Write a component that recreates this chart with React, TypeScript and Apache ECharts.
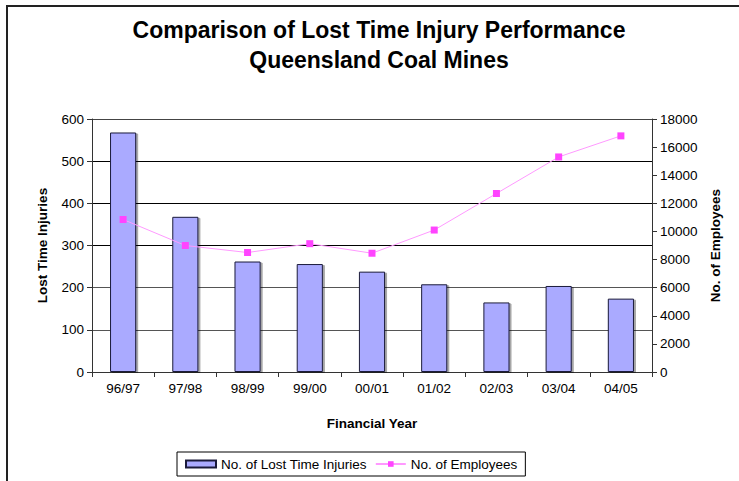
import React, { useEffect, useRef } from "react";
import * as echarts from "echarts";

const categories = ["96/97", "97/98", "98/99", "99/00", "00/01", "01/02", "02/03", "03/04", "04/05"];
const lostTimeInjuries = [568, 368, 262, 256, 238, 208, 165, 204, 174];
const employees = [10850, 9000, 8500, 9130, 8450, 10100, 12700, 15300, 16800];
const leftTicks = { min: 0, max: 600, interval: 100 };
const rightTicks = { min: 0, max: 18000, interval: 2000 };
const titleLines = ["Comparison of Lost Time Injury Performance", "Queensland Coal Mines"];

const FONT = "'Liberation Sans', Arial, sans-serif";

export default function App() {
  const ref = useRef<HTMLDivElement>(null);
  useEffect(() => {
    if (!ref.current) return;
    const chart = echarts.init(ref.current, undefined, { renderer: "svg" });
    chart.setOption({
      animation: false,
      backgroundColor: "#fff",
      textStyle: { fontFamily: FONT },
      graphic: [
        {
          type: "rect",
          shape: { x: 7, y: 6, width: 800, height: 600 },
          style: { fill: "none", stroke: "#222", lineWidth: 2 },
          silent: true,
          z: 100,
        },
        ...titleLines.map((t, i) => ({
          type: "text",
          x: 379,
          y: 30 + i * 30,
          style: {
            text: t,
            fontFamily: FONT,
            fontSize: 23,
            fontWeight: "bold",
            fill: "#000",
            textAlign: "center",
            textVerticalAlign: "middle",
          },
          silent: true,
        })),
      ],
      legend: {
        bottom: 5,
        left: 177,
        padding: [5, 8, 5, 8],
        borderColor: "#000",
        borderWidth: 1,
        itemGap: 8,
        itemWidth: 30,
        itemHeight: 7,
        textStyle: { fontFamily: FONT, fontSize: 13.5, color: "#000" },
        data: [
          { name: "No. of Lost Time Injuries", icon: "rect" },
          { name: "No. of Employees" },
        ],
      },
      grid: { left: 92, right: 87, top: 119, bottom: 109 },
      xAxis: {
        type: "category",
        data: categories,
        name: "Financial Year",
        nameLocation: "middle",
        nameGap: 44,
        nameTextStyle: { fontFamily: FONT, fontSize: 13.5, fontWeight: "bold", color: "#000" },
        axisLine: { lineStyle: { color: "#333", width: 1 } },
        axisTick: { show: true, alignWithLabel: false, length: 5, lineStyle: { color: "#333" } },
        axisLabel: { fontFamily: FONT, fontSize: 13.5, color: "#000", margin: 9 },
      },
      yAxis: [
        {
          type: "value",
          ...leftTicks,
          name: "Lost Time Injuries",
          nameLocation: "middle",
          nameGap: 43,
          nameTextStyle: { fontFamily: FONT, fontSize: 13.5, fontWeight: "bold", color: "#000" },
          axisLine: { show: true, lineStyle: { color: "#333" } },
          axisTick: { show: true, length: 5, lineStyle: { color: "#333" } },
          axisLabel: { fontFamily: FONT, fontSize: 13.5, color: "#000", margin: 8 },
          splitLine: {
            show: true,
            lineStyle: { color: ["#555", "#555", "#555", "#000", "#000", "#000", "#444"], width: 1 },
          },
        },
        {
          type: "value",
          ...rightTicks,
          position: "right",
          name: "No. of Employees",
          nameLocation: "middle",
          nameGap: 56,
          nameRotate: 90,
          nameTextStyle: { fontFamily: FONT, fontSize: 13.5, fontWeight: "bold", color: "#000" },
          axisLine: { show: true, lineStyle: { color: "#333" } },
          axisTick: { show: true, length: 5, lineStyle: { color: "#333" } },
          axisLabel: { fontFamily: FONT, fontSize: 13.5, color: "#000", margin: 8, formatter: (v: number) => String(v) },
          splitLine: { show: false },
        },
      ],
      series: [
        {
          name: "No. of Lost Time Injuries",
          type: "bar",
          yAxisIndex: 0,
          data: lostTimeInjuries,
          barWidth: "42%",
          itemStyle: {
            color: "#aaaaff",
            borderColor: "#1a1a3a",
            borderWidth: 1,
            shadowColor: "rgba(0,0,0,0.35)",
            shadowOffsetX: 2,
            shadowOffsetY: 1,
            shadowBlur: 1,
          },
        },
        {
          name: "No. of Employees",
          type: "line",
          yAxisIndex: 1,
          data: employees,
          symbol: "rect",
          symbolSize: 7,
          lineStyle: { color: "#ff99ff", width: 1 },
          itemStyle: { color: "#ff44ff" },
          z: 5,
        },
      ],
    });
    return () => chart.dispose();
  }, []);
  return <div ref={ref} style={{ position: "fixed", left: 0, top: 0, width: 739, height: 481 }} />;
}
